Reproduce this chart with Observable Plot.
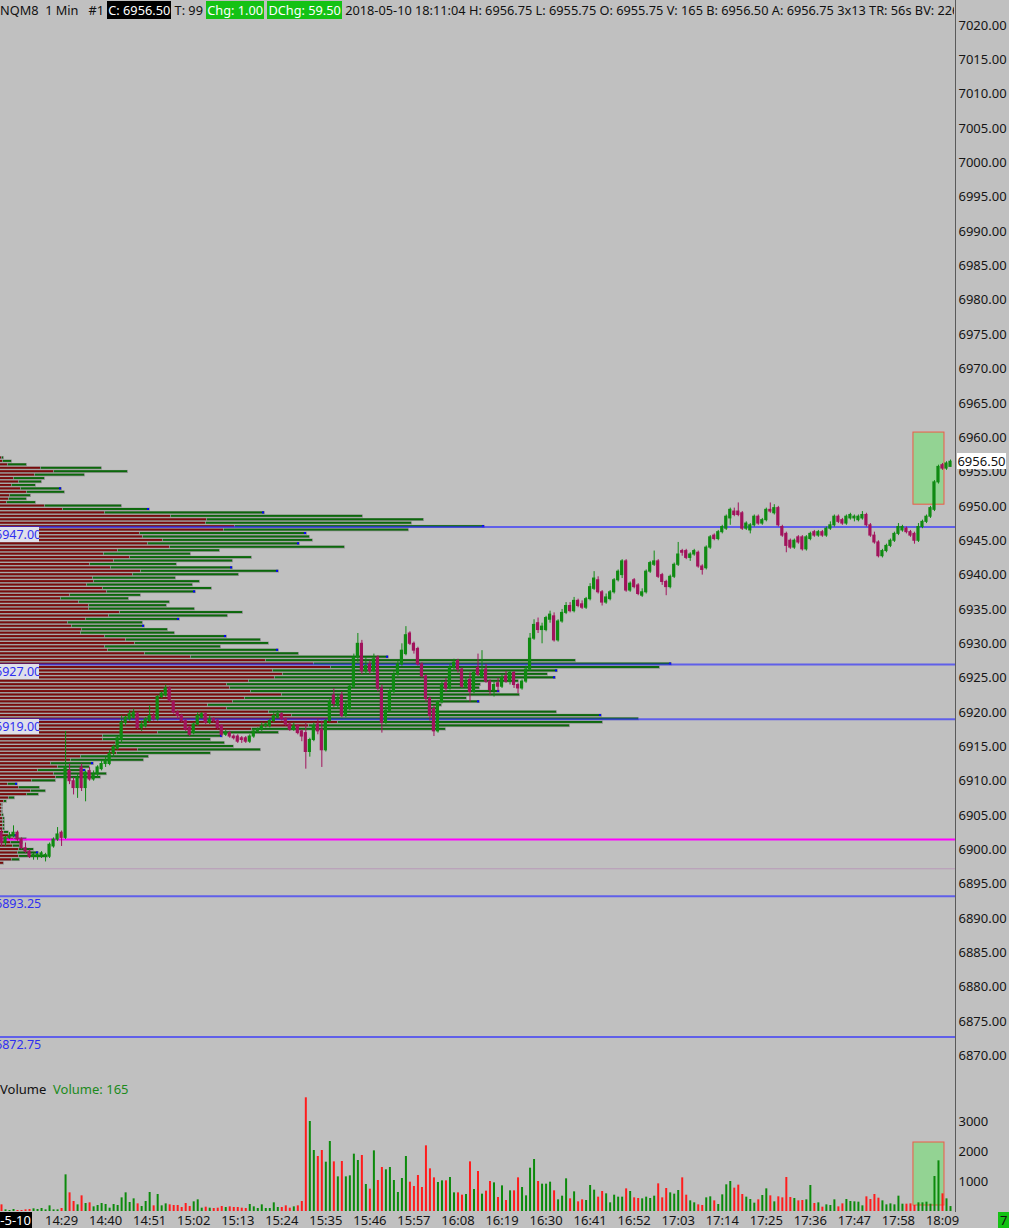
<!DOCTYPE html>
<html><head><meta charset="utf-8">
<script src="https://cdn.jsdelivr.net/npm/d3@7"></script>
<script src="https://cdn.jsdelivr.net/npm/@observablehq/plot@0.6"></script>
<style>
html,body{margin:0;padding:0;background:#c0c0c0;}
#wrap{position:relative;width:1009px;height:1228px;background:#c0c0c0;overflow:hidden;font-family:"Noto Sans",sans-serif;color:#111;}
#wrap svg{position:absolute;left:0;}
.hdr{position:absolute;left:0;top:1px;width:954px;height:18px;line-height:18px;font-size:12.75px;white-space:pre;overflow:hidden;}
.hdr .blk{background:#000;color:#fff;padding:0 1px;}
.hdr .grn{background:#14c214;color:#fff;padding:0 1px;}
.lvl{position:absolute;left:0;height:15px;line-height:15px;font-size:12.5px;color:#2f2ff0;white-space:pre;overflow:hidden;}
.lvl.box{background:#dfe0ea;width:39px;}
.lvl span{margin-left:-5px;}
</style></head><body><div id="wrap"></div>
<script>
// ---------------- data ----------------
const startMinute = 14 * 60 + 14; // first bar 14:14
const sessionDate = "2018-5-10";
const timeTickLabels = ["14:29","14:40","14:51","15:02","15:13","15:24","15:35","15:46","15:57","16:08","16:19","16:30","16:41","16:52","17:03","17:14","17:25","17:36","17:47","17:58","18:09"];

const opens = [6902.5,6901,6901.75,6902,6902.5,6901.5,6900.25,6899.75,6899,6899,
6899,6899,6899,6900.5,6901.5,6902.5,6901.75,6911.5,6910,6909,
6912,6909,6911.5,6910.25,6911,6911.75,6912.5,6912.5,6914,6914.75,
6916,6918.5,6919,6919.25,6919.75,6917.75,6918,6918.75,6919.5,6919,
6922.25,6922.5,6923.5,6921.5,6920,6919.5,6918.75,6917.75,6917,6918.25,
6919.25,6919.75,6918.5,6919,6918.75,6918,6916.75,6917,6916.5,6916.5,
6916.25,6916.25,6915.75,6916.5,6917.25,6917.5,6918,6918,6918.75,6919.25,
6919.75,6919,6918.25,6917.5,6918,6917.25,6917,6914.25,6916,6918.25,
6917.5,6914.5,6918.75,6922.5,6921,6922.5,6919.5,6920.5,6923.75,6928,
6930,6926,6927,6926,6928,6923.5,6918.5,6920.25,6923,6925.5,
6927,6928.5,6931.5,6930,6929.25,6927,6925.25,6922,6920.5,6917.25,
6921.5,6924.25,6923.5,6926.5,6927.5,6926.25,6923.75,6924.75,6923,6926.5,
6925.25,6926.25,6924.5,6923.25,6924.25,6923.75,6925.25,6924.5,6925.75,6924,
6923.5,6924.5,6926.25,6930.75,6933,6932,6932,6933.5,6934,6930.5,
6933.25,6934.5,6935.5,6934.75,6936.25,6935.75,6935.25,6936.5,6938,6939.25,
6937.5,6936,6936.5,6937.5,6939.25,6940,6942,6937.75,6939.25,6938.5,
6937,6937.5,6940.5,6941.5,6942,6940,6939,6938.25,6939.75,6941.5,
6943.5,6943.5,6942.5,6943,6943.25,6941.25,6941,6944,6945.75,6945.25,
6946.25,6946.75,6948.25,6949.25,6949.25,6949,6946.75,6946.5,6947.25,6948.5,
6947.5,6948,6949.5,6949,6949.75,6947,6946,6945,6944,6945.5,
6945.5,6943.75,6945.25,6946.25,6945.75,6946.25,6945.75,6946.75,6947.25,6948.5,
6948,6947.5,6948.25,6948.25,6948,6948.25,6948.75,6947.25,6945.75,6944.75,
6942.75,6943.5,6944.25,6945,6946,6946.5,6946.75,6946.25,6946,6945,
6947,6947.75,6948.5,6949.5,6953.5,6956,6955.5,6955.75];

const highs = [6903,6902,6902.5,6903.5,6902.75,6901.75,6901,6900,6899.5,6899.5,
6899.75,6899.5,6901,6901.75,6903.25,6902.75,6917.25,6912.5,6910.5,6911,
6912.5,6911.5,6912,6911.5,6912.25,6913,6913.5,6914.5,6915.25,6916.5,
6919.5,6919.5,6920.25,6920.5,6920,6918.75,6919.25,6921,6920,6922.5,
6923,6924,6923.75,6921.75,6920.25,6919.75,6919,6918,6918.5,6920,
6920,6920,6919.5,6919.25,6919,6918.25,6917.5,6917.25,6916.75,6916.75,
6916.5,6916.5,6916.75,6917.5,6917.75,6918.5,6918.5,6919,6920,6920.25,
6920,6919.25,6918.5,6918.5,6918.25,6917.5,6918.5,6916.25,6918.5,6919,
6918.75,6919,6922,6923.5,6922.5,6923,6921.5,6924,6928.5,6931.5,
6930.5,6928,6927.5,6928.5,6928.25,6924,6921,6923.5,6926,6927.5,
6930,6932.5,6931.75,6930.25,6929.5,6927.25,6925.5,6922.25,6921,6921.75,
6924.5,6925,6927,6927.75,6927.75,6926.5,6925,6925.75,6926,6928.5,
6929,6927,6924.75,6924.5,6925,6925.5,6926,6926,6926,6924.25,
6924.75,6926.75,6931.5,6933.5,6933.75,6933,6934,6934.75,6934.5,6933.5,
6935,6936,6936,6936.75,6936.5,6936.25,6936.75,6938.75,6940.5,6939.75,
6937.75,6937.25,6937.75,6939.5,6940.75,6942.25,6942.25,6939,6939.5,6938.75,
6938,6940.75,6942,6943.5,6942.25,6940.25,6939.25,6940,6941.75,6944.75,
6943.75,6943.75,6943.25,6943.75,6943.5,6941.5,6944.25,6945.75,6946,6946.5,
6947.25,6948.75,6949.75,6949.75,6950.5,6949.25,6947.75,6947.5,6948.75,6948.75,
6948.25,6949.75,6950.5,6950.25,6950,6947.25,6946.25,6945.25,6945.25,6945.75,
6945.75,6945.75,6946.25,6946.5,6946.5,6946.5,6947,6947.75,6948.75,6948.75,
6948.25,6948.75,6949,6948.75,6948.75,6949.25,6949,6947.5,6946.25,6945,
6943.75,6944.5,6945.25,6946.25,6947.5,6947.25,6947,6946.5,6946.25,6947.5,
6948,6948.75,6950,6953.75,6956,6956.25,6956.5,6956.75];

const lows = [6900.5,6900.5,6901.5,6901.75,6901.25,6900,6899.5,6898.75,6898.5,6898.5,
6898.75,6898.25,6898.75,6900.25,6901.25,6900.5,6901.5,6909.5,6908,6907.5,
6908.5,6907,6910,6910,6910.5,6911.5,6912,6912.25,6913.5,6914.5,
6915.5,6918,6918.75,6919,6917.5,6917.25,6917.75,6918.5,6918.75,6918.75,
6922,6922.25,6921.5,6919.75,6919,6918.5,6917.25,6916.5,6916.75,6918,
6919,6918.25,6918.25,6918.5,6917.5,6916.5,6916.5,6916.25,6916,6915.5,
6915.5,6915.5,6915.5,6916.25,6917,6917.25,6917.75,6917.75,6918.5,6919,
6918.75,6918,6917.25,6917.25,6916.75,6915.75,6911.75,6913.5,6915.75,6916.75,
6912,6914.25,6918.5,6920.75,6920.5,6919.25,6919.25,6920.25,6923.5,6927.25,
6925.5,6925.5,6925.5,6925.75,6923,6917,6918.25,6920,6922.75,6925.25,
6926.75,6928.25,6929.75,6928.5,6926.75,6925,6921.5,6918.75,6916.5,6917,
6921.25,6923,6923.25,6926,6925.75,6923.5,6923.5,6921.5,6922.75,6925.25,
6925,6924.25,6922.5,6922.25,6923,6923.5,6924.25,6924,6923.5,6922.75,
6923.25,6924.25,6926,6930.5,6931.5,6930,6931.75,6933,6930.25,6930.25,
6933,6934.25,6934.5,6934.5,6935.25,6935,6935,6936.25,6937.75,6937.25,
6935.5,6935.75,6936.25,6937.25,6939,6939.5,6937.5,6937.5,6938,6937,
6936.75,6937.25,6940.25,6941.25,6939.5,6938.5,6937,6938,6939.5,6941.25,
6942.75,6942.25,6942,6942.75,6941,6940,6940.75,6943.75,6945,6945,
6946,6946.5,6947.25,6948.5,6948.5,6946.5,6946.5,6946,6947,6947.25,
6947.25,6947.75,6949,6948.75,6947,6945.5,6943.25,6943.75,6943.75,6944.5,
6943.5,6943.5,6945,6945.5,6945.5,6945.5,6945.5,6946.5,6947,6947.5,
6947.25,6947.25,6948,6947.75,6947.75,6948,6947,6945.5,6944.5,6942.5,
6942.5,6943.25,6944,6944.75,6945.75,6946.25,6946,6945.5,6944.5,6944.75,
6946.75,6947.5,6948.25,6949.25,6953.25,6955.25,6955.25,6955.75];

const closes = [6901,6901.75,6902,6902.5,6901.5,6900.25,6899.75,6899,6899.25,6899.25,
6899.5,6899.25,6900.75,6901.5,6902.25,6901.75,6912,6910,6909,6910.5,
6909,6911.25,6910.25,6911,6912,6912.5,6913,6914,6915,6916.25,
6918.5,6919.25,6919.75,6920,6917.75,6918.25,6919,6919.5,6919,6922.25,
6922.75,6923.5,6921.75,6920,6919.5,6918.75,6917.5,6916.75,6918.25,6919.5,
6919.75,6918.5,6919,6918.75,6917.75,6916.75,6917,6916.5,6916.25,6915.75,
6916,6915.75,6916.5,6917.25,6917.5,6918,6918.25,6918.75,6919.5,6919.75,
6919,6918.25,6917.5,6918,6917,6916.5,6914.25,6916,6918,6917.25,
6914.5,6918.75,6921.5,6921.25,6922,6919.5,6921,6923.75,6928,6930,
6926,6926.75,6926,6927.75,6923.5,6918.5,6920.25,6923,6925.5,6927,
6929,6931.25,6930,6929,6927,6925.25,6922,6919.5,6917.25,6921.5,
6924,6923.5,6926.5,6927.25,6926.25,6923.75,6924.5,6923,6925.75,6925.5,
6926,6924.5,6923.25,6924,6923.75,6925,6924.5,6925.75,6924,6923.5,
6924.5,6926.25,6930.75,6932.75,6932,6932.5,6933.75,6934.25,6930.5,6933.25,
6934.5,6935.5,6934.75,6936.25,6935.5,6935.25,6936.5,6938.25,6939.5,6937.5,
6936,6936.75,6937.5,6939.25,6940.5,6942,6937.75,6938.75,6938.25,6937.25,
6937.5,6940.5,6941.75,6942,6939.75,6939,6938.25,6939.75,6941.5,6943,
6943.25,6942.5,6943,6943.5,6941.25,6940.75,6944,6945.5,6945.25,6946.25,
6947,6948.5,6949.5,6948.75,6948.75,6946.75,6947.5,6947.25,6948.5,6947.5,
6948,6949.5,6949.25,6949.75,6947.25,6945.75,6944.25,6944,6945,6944.75,
6943.75,6945.5,6946,6945.75,6946.25,6945.75,6946.75,6947.25,6948.5,6947.75,
6947.5,6948.5,6948.75,6948.5,6948.5,6948.75,6947.25,6945.75,6944.75,6942.75,
6943.5,6944.25,6945,6946,6947,6947,6946.25,6945.75,6945,6947,
6947.75,6948.5,6949.75,6953.5,6955.75,6955.5,6956.25,6956.5];

const volumes = [222,55,33,67,33,33,55,67,89,67,
100,55,189,55,55,100,1222,622,333,222,
522,267,289,155,200,267,233,111,233,200,
455,622,300,422,255,167,333,633,189,567,
189,255,222,200,200,133,267,167,322,389,
111,144,111,100,111,167,133,155,133,133,
111,100,233,155,100,222,100,100,289,133,
133,189,111,155,189,333,3790,3000,2033,1833,
2033,1644,2333,1655,1155,1667,1155,1189,1911,1700,
1867,900,744,2022,1033,1467,1389,1467,1033,633,
1100,1833,978,833,1200,800,2189,1422,1122,967,
1022,1022,1133,622,622,544,567,1655,733,1333,
578,678,1000,955,467,855,367,689,689,1122,
800,522,1444,1733,1000,911,911,978,689,389,
511,1089,422,655,322,389,367,867,711,478,
667,589,289,544,478,478,755,667,455,433,
422,478,433,511,922,455,767,622,578,700,
1122,544,355,289,222,200,455,489,355,233,
555,889,1000,778,878,567,478,400,278,389,
533,755,522,322,489,455,1133,467,433,355,
367,389,867,267,289,144,222,200,389,155,
255,400,333,322,311,189,489,400,567,444,
355,222,255,222,511,244,244,255,200,289,
289,311,244,1167,1689,589,422,165];

// volume profile: rows every 0.5 pt from profileTop downward
const profileTop = 6957.0;
const profileStep = 0.5;
const profileSell = [1,2,7,40,53,34,13,18,11,20,
26,9,8,6,44,62,104,170,206,205,
234,223,139,142,162,147,169,117,103,129,
113,89,110,140,132,92,93,86,102,106,
69,60,78,88,88,119,108,85,67,71,
81,80,104,125,134,104,107,144,190,265,
313,330,272,282,274,248,226,229,250,281,
244,232,207,226,268,291,330,337,308,251,
157,102,102,115,116,137,116,80,70,50,
57,37,53,55,31,7,18,30,26,8,
3,1,1,1,1,2,2,2,2,3,
8,13,10,12,18,17,18,11,3];
const profileBuy = [2,9,19,61,74,50,31,23,24,41,
38,21,18,29,77,87,160,192,217,206,
250,185,167,167,150,152,175,102,87,122,
119,87,122,138,106,83,106,106,109,89,
71,68,91,78,106,123,119,94,75,73,
86,94,122,135,134,116,171,154,198,310,
358,329,285,265,281,270,254,250,249,238,
222,247,234,212,288,310,308,265,261,194,
121,120,108,109,117,123,94,68,73,43,
32,48,53,45,24,10,21,15,12,6,
3,1,1,1,2,2,2,2,2,5,
8,13,12,7,15,21,29,8,0];
const profileTipPrices = [6952.5,6949.5,6949,6947,6946,6944.5,6941,6940.5,6937.5,6933.5,6932.5,6931,6929,6928,6927,6926,6925,6923,6921.5,6919.5,6916.5,6912.5,6911.5,6909.5,6902,6899.5];

// horizontal levels
const blueLevels = [6947.00, 6927.00, 6919.00, 6893.25, 6872.75];
const boxedLevels = [6947.00, 6927.00, 6919.00];
const magentaLevel = 6901.50;
const thinLevel = 6897.25;

// highlighted region (bars index range, price range, volume range)
const highlight = {i1: 227.75, i2: 235.5, p1: 6950.25, p2: 6960.75, v1: 200, v2: 2300};

const priceTicks = d3.range(6870, 7020.01, 5);
const volumeTicks = [1000, 2000, 3000];

// ---------------- build ----------------
const W = 1009, plotRight = 955, PRICE_H = 1080, VOL_TOP = 1080, VOL_H = 148;
const xDomain = [-0.25, 238.25];
const yDomain = [6870, 7020];
const upC = "#0f8a12", downC = "#a1135c";
const volUp = "#0b8a0b", volDown = "#ff1c1c";

const candles = closes.map((c, i) => ({i, o: opens[i], h: highs[i], l: lows[i], c, v: volumes[i], up: c >= opens[i]}));
const profile = profileSell.map((s, k) => {
  const p = profileTop - k * profileStep;
  return {p, sell: s, buy: profileBuy[k], tip: profileTipPrices.includes(p)};
});
const fmtTime = i => { const m = startMinute + i; return String(Math.floor(m / 60)).padStart(2, "0") + ":" + String(m % 60).padStart(2, "0"); };
const tickIdx = timeTickLabels.map(t => { const [h, m] = t.split(":").map(Number); return h * 60 + m - startMinute; });

const style = {background: "transparent", fontFamily: "Noto Sans", fontSize: "13px", color: "#151515", overflow: "visible"};
const wrap = document.getElementById("wrap");

// volume profile (own x scale)
const prof = Plot.plot({
  width: W, height: PRICE_H, marginLeft: 0, marginRight: W - plotRight, marginTop: 25, marginBottom: 24.5,
  x: {domain: [0, plotRight], axis: null}, y: {domain: yDomain, axis: null}, style,
  marks: [
    Plot.rect(profile, {x1: 0, x2: d => d.sell + d.buy, y1: d => d.p - 0.25, y2: d => d.p + 0.25, fill: "#8f8f8f", insetTop: 0.1, insetBottom: 0.4, insetRight: -1}),
    Plot.rect(profile, {x1: 0, x2: "sell", y1: d => d.p - 0.25, y2: d => d.p + 0.25, fill: "#790b0b", insetTop: 0.4, insetBottom: 1.1}),
    Plot.rect(profile, {x1: "sell", x2: d => d.sell + d.buy, y1: d => d.p - 0.25, y2: d => d.p + 0.25, fill: "#0b680b", insetTop: 0.4, insetBottom: 1.1, insetLeft: 0.8}),
    Plot.rect(profile.filter(d => d.tip), {x1: d => d.sell + d.buy - 2, x2: d => d.sell + d.buy, y1: d => d.p - 0.25, y2: d => d.p + 0.25, fill: "#0000ff", insetTop: 0.4, insetBottom: 1.1})
  ]
});
prof.style.top = "0px";
wrap.appendChild(prof);

// price panel
const price = Plot.plot({
  width: W, height: PRICE_H, marginLeft: 0, marginRight: W - plotRight, marginTop: 25, marginBottom: 24.5,
  x: {domain: xDomain, axis: null}, y: {domain: yDomain}, style,
  marks: [
    Plot.rect([highlight], {x1: "i1", x2: "i2", y1: "p1", y2: "p2", fill: "#93d393", stroke: "#ee5a46", strokeWidth: 1}),
    Plot.ruleY([thinLevel], {stroke: "#b898b8", strokeWidth: 1}),
    Plot.ruleY([magentaLevel], {stroke: "#ff00ff", strokeWidth: 2}),
    Plot.ruleY(blueLevels, {stroke: "#2b2bff", strokeOpacity: 0.65, strokeWidth: 2}),
    Plot.ruleX(candles, {x: "i", y1: "l", y2: "h", stroke: d => d.up ? upC : downC, strokeWidth: 1}),
    Plot.rect(candles, {x1: d => d.i - 0.4, x2: d => d.i + 0.4, y1: "o", y2: "c", fill: d => d.up ? upC : downC, insetTop: -0.5, insetBottom: -0.5}),
    Plot.axisY({anchor: "right", ticks: priceTicks, tickFormat: d => d.toFixed(2), tickSize: 0, tickPadding: 3, label: null})
  ]
});
price.style.top = "0px";
wrap.appendChild(price);

// volume panel
const vol = Plot.plot({
  width: W, height: VOL_H, marginLeft: 0, marginRight: W - plotRight, marginTop: 11, marginBottom: 17,
  x: {domain: xDomain}, y: {domain: [0, 4000]}, style,
  marks: [
    Plot.rect([highlight], {x1: "i1", x2: "i2", y1: "v1", y2: "v2", fill: "#93d393", stroke: "#ee5a46", strokeWidth: 1}),
    Plot.ruleX(candles, {x: "i", y1: 0, y2: "v", stroke: d => d.up ? volUp : volDown, strokeWidth: 2}),
    Plot.axisY({anchor: "right", ticks: volumeTicks, tickFormat: d => String(d), tickSize: 0, tickPadding: 3, label: null}),
    Plot.axisX({anchor: "bottom", ticks: tickIdx, tickFormat: fmtTime, tickSize: 0, tickPadding: 4, label: null})
  ]
});
vol.style.top = VOL_TOP + "px";
wrap.appendChild(vol);

// axis line
const axLine = document.createElement("div");
Object.assign(axLine.style, {position: "absolute", left: plotRight + "px", top: "0px", width: "1px", height: "1212px", background: "#5a5a5a"});
wrap.appendChild(axLine);

// level labels
const yS = price.scale("y");
blueLevels.forEach(v => {
  const d = document.createElement("div");
  d.className = "lvl" + (boxedLevels.includes(v) ? " box" : "");
  d.style.top = (yS.apply(v) + 0.5) + "px";
  d.innerHTML = "<span>" + v.toFixed(2) + "</span>";
  wrap.appendChild(d);
});

// last price box
const last = candles[candles.length - 1];
const lp = document.createElement("div");
Object.assign(lp.style, {position: "absolute", left: "957px", width: "49px", height: "16px", lineHeight: "16px", background: "#fff", color: "#111", fontSize: "13px", textAlign: "center", top: (yS.apply(last.c) - 8) + "px"});
lp.textContent = last.c.toFixed(2);
wrap.appendChild(lp);

// header
const hdr = document.createElement("div");
hdr.className = "hdr";
hdr.innerHTML = 'NQM8  1 Min   #1 <span class="blk">C: 6956.50</span> T: 99 <span class="grn">Chg: 1.00</span> <span class="grn">DChg: 59.50</span> 2018-05-10 18:11:04 H: 6956.75 L: 6955.75 O: 6955.75 V: 165 B: 6956.50 A: 6956.75 3x13 TR: 56s BV: 2268';
wrap.appendChild(hdr);

// volume title
const vt = document.createElement("div");
Object.assign(vt.style, {position: "absolute", left: "0px", top: "1080px", fontSize: "13px", lineHeight: "18px", whiteSpace: "pre"});
vt.innerHTML = 'Volume  <span style="color:#1b8a1b">Volume: ' + last.v + '</span>';
wrap.appendChild(vt);

// date box bottom-left (text clipped on the left)
const db = document.createElement("div");
Object.assign(db.style, {position: "absolute", left: "0px", top: "1212px", width: "32px", height: "16px", background: "#000", overflow: "hidden"});
const dbt = document.createElement("span");
Object.assign(dbt.style, {position: "absolute", right: "1px", top: "0px", lineHeight: "16px", color: "#fff", fontSize: "13px", whiteSpace: "pre"});
dbt.textContent = sessionDate;
db.appendChild(dbt);
wrap.appendChild(db);

// bottom-right green marker
const gm = document.createElement("div");
Object.assign(gm.style, {position: "absolute", left: "998px", top: "1212px", width: "11px", height: "16px", lineHeight: "16px", background: "#14c214", color: "#111", fontSize: "13px", overflow: "hidden", paddingLeft: "2px", boxSizing: "border-box"});
gm.textContent = "7";
wrap.appendChild(gm);
</script></body></html>
